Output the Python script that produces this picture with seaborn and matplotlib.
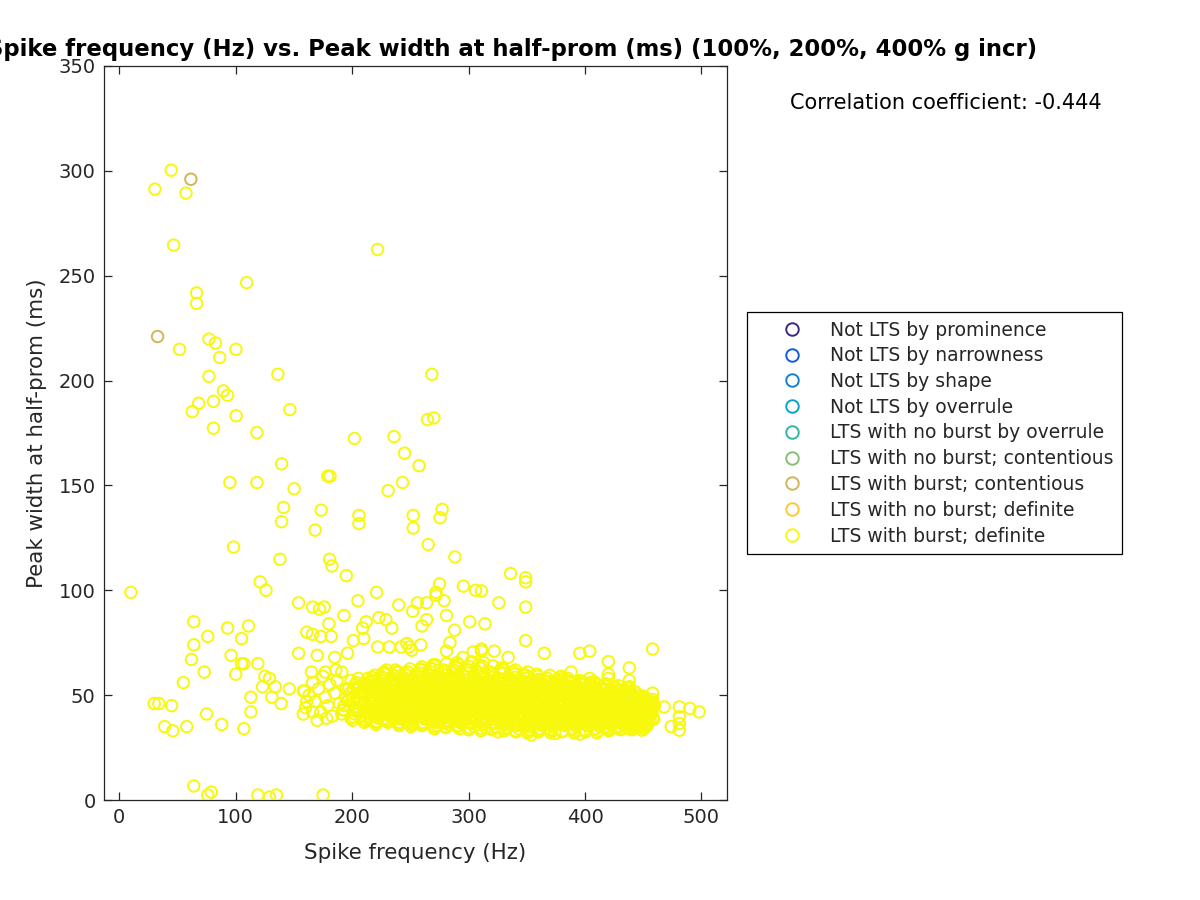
import numpy as np
import matplotlib
matplotlib.use("Agg")
import matplotlib.pyplot as plt
from matplotlib.lines import Line2D
import seaborn as sns

# ---------------- data ----------------
categories = ["Not LTS by prominence", "Not LTS by narrowness", "Not LTS by shape",
              "Not LTS by overrule", "LTS with no burst by overrule",
              "LTS with no burst; contentious", "LTS with burst; contentious",
              "LTS with no burst; definite", "LTS with burst; definite"]
cat_colors = ["#352A87", "#0F5CDD", "#1481D6", "#06A4CA", "#2EB7A4",
              "#87BF77", "#D1B55A", "#FEC832", "#F7F80C"]

# LTS with burst; contentious
freq_contentious = [61.5, 32.9]
width_contentious = [296.0, 221.0]

# LTS with burst; definite -- high-width outliers
freq_high = [30.6, 44.6, 57.3, 46.7, 221.8, 109.4, 66.4, 66.4, 51.8, 77.0, 82.6, 100.2, 86.2,
             136.2, 268.4, 77.0, 89.4, 93.0, 80.9, 68.2, 62.7, 100.4, 146.5, 80.9, 118.2, 264.7,
             270.1, 202.0, 236.0, 245.0, 257.5, 139.4, 179.0, 181.0, 95.0, 118.2, 150.2, 243.3,
             230.9, 141.1, 139.4, 173.4, 168.2, 205.8, 205.8, 252.4, 252.4, 277.3, 275.5, 98.2,
             265.3, 138.0, 180.6, 182.6, 288.2]
width_high = [291.3, 300.3, 289.4, 264.6, 262.5, 246.7, 241.8, 236.8, 214.9, 219.8, 217.9, 214.9,
              211.0, 203.0, 203.0, 202.0, 195.1, 193.0, 190.1, 189.2, 185.2, 183.2, 186.2, 177.3,
              175.2, 181.4, 182.2, 172.4, 173.3, 165.4, 159.4, 160.3, 154.4, 154.4, 151.4, 151.4,
              148.4, 151.4, 147.5, 139.5, 132.7, 138.2, 128.7, 135.7, 131.8, 135.7, 129.7, 138.6,
              134.6, 120.6, 121.8, 114.8, 114.8, 111.6, 115.9]

# LTS with burst; definite -- middle band and scattered points
freq_mid = [10, 64, 64, 62, 76, 73, 55, 93, 111, 105, 96, 105, 100, 119, 121, 126, 154, 166, 172,
            176, 180, 161, 166, 173, 182, 154, 170, 185, 125, 129, 123, 134, 146, 131, 139, 113,
            30, 34, 45, 177, 39, 46, 58, 75, 88, 107, 113, 64, 76, 79, 119, 129, 135, 175,
            158, 166, 159, 161, 107, 195, 205, 221, 240, 256, 264, 252, 281, 301, 314, 288, 193,
            234, 264, 260, 209, 212, 223, 229, 201, 210, 284, 281, 222, 232, 242, 249, 259, 196,
            311, 322, 275, 272, 272, 295.5, 306, 311, 336, 349, 349, 349, 326, 279, 349, 365,
            395.5, 404, 458, 420, 438, 247, 251, 311, 304, 295, 334, 388, 404, 420, 420, 438, 438,
            458, 458, 468, 481, 490, 498, 481, 481, 481, 474, 325.5, 354, 374, 395.5, 449,
            160, 163, 166, 168, 171, 173, 175, 177, 179, 181, 183, 185, 187, 189, 191, 193, 195,
            197, 199, 165, 158, 170, 186, 178]
width_mid = [99, 85, 74, 67, 78, 61, 56, 82, 83, 77, 69, 65, 60, 65, 104, 100, 94, 92, 91,
             92, 84, 80, 79, 78, 78, 70, 69, 68, 59, 58, 54, 54, 53, 49, 46, 49,
             46, 46, 45, 61, 35, 33, 35, 41, 36, 34, 42, 6.7, 2.4, 3.8, 2.4, 1.4, 2.4, 2.4,
             41, 42, 52, 47, 65, 107, 95, 99, 93, 94, 94, 90, 88, 85, 84, 81, 88,
             82, 86, 83, 82, 85, 87, 86, 76, 77, 75, 71, 73, 73, 73, 73, 74, 70,
             71, 71, 103, 99, 97.6, 102, 100, 99.7, 108, 106, 104, 92, 94, 95, 76, 70,
             70, 71, 72, 66, 63, 74.6, 71.4, 72, 70.6, 68, 68, 61, 58, 60, 58, 57, 54,
             51, 48, 44.4, 44.4, 43.7, 42, 39.7, 36.5, 33.3, 35, 32.5, 31, 31.7, 31.4, 33.3,
             44, 50, 56, 47, 53, 42, 59, 49, 45, 55, 40, 51, 57, 46, 61, 43, 53,
             48, 39, 61, 52, 38, 62, 39]

# LTS with burst; definite -- dense core, first layer (one line per 10 Hz band)
freq_core = [
    191, 193, 195, 197, 199, 192, 196, 198,
    200.5, 202.3, 204.1, 206.8, 208.9, 201.2, 203.6, 205.5, 207.7, 209.4, 200.8, 204.7,
    210.5, 212.3, 214.1, 216.8, 218.9, 211.2, 213.6, 215.5, 217.7, 219.4, 210.8, 212.9, 214.7, 216.2, 218.3, 211.7, 213.1, 215.9, 217.2, 219.8,
    220.4, 222.5, 224.2, 226.6, 228.7, 221.3, 223.4, 225.6, 227.9, 229.5, 220.9, 222.8, 224.9, 226.1, 228.2, 221.8, 223.0, 225.2, 227.4, 229.9,
    230.6, 232.1, 234.4, 236.9, 238.5, 231.5, 233.7, 235.3, 237.6, 239.2, 230.2, 232.7, 234.8, 236.3, 238.9, 231.9, 233.2, 235.7, 237.1, 239.7,
    240.3, 242.6, 244.5, 246.2, 248.8, 241.4, 243.1, 245.8, 247.5, 249.6, 240.7, 242.2, 244.0, 246.7, 248.1, 241.9, 243.8, 245.1, 247.9, 249.1,
    250.5, 252.4, 254.3, 256.6, 258.2, 251.1, 253.6, 255.9, 257.3, 259.5, 250.9, 252.8, 254.7, 256.1, 258.8, 251.6, 253.2, 255.4, 257.8, 259.9,
    260.2, 262.7, 264.4, 266.3, 268.6, 261.5, 263.3, 265.8, 267.1, 269.4, 260.8, 262.1, 264.9, 266.8, 268.0, 261.3, 263.9, 265.2, 267.7, 269.8,
    270.6, 272.3, 274.8, 276.1, 278.5, 271.2, 273.7, 275.4, 277.9, 279.3, 270.3, 272.9, 274.2, 276.6, 278.1, 271.8, 273.1, 275.9, 277.3, 279.7,
    280.4, 282.2, 284.7, 286.4, 288.3, 281.6, 283.5, 285.1, 287.8, 289.2, 280.9, 282.8, 284.3, 286.9, 288.7, 281.2, 283.9, 285.6, 287.3, 289.8,
    290.5, 292.6, 294.1, 296.8, 298.4, 291.3, 293.9, 295.2, 297.5, 299.7, 290.1, 292.3, 294.6, 296.2, 298.9, 291.8, 293.4, 295.7, 297.1, 299.2,
    300.2, 302.8, 304.5, 306.3, 308.1, 301.7, 303.2, 305.9, 307.4, 309.6, 300.9, 302.1, 304.8, 306.7, 308.6, 301.4, 303.7, 305.3, 307.9, 309.1,
    310.7, 312.4, 314.2, 316.9, 318.3, 311.1, 313.8, 315.5, 317.2, 319.6, 310.3, 312.9, 314.6, 316.1, 318.8, 311.5, 313.3, 315.8, 317.7, 319.2,
    320.3, 322.6, 324.8, 326.2, 328.5, 321.4, 323.1, 325.7, 327.3, 329.8, 320.8, 322.2, 324.4, 326.9, 328.1, 321.9, 323.6, 325.1, 327.8, 329.4,
    330.5, 332.2, 334.9, 336.4, 338.6, 331.8, 333.3, 335.5, 337.1, 339.7, 330.1, 332.7, 334.3, 336.8, 338.2, 331.2, 333.9, 335.2, 337.6, 339.3,
    340.6, 342.1, 344.7, 346.5, 348.2, 341.3, 343.8, 345.4, 347.9, 349.5, 340.2, 342.9, 344.1, 346.8, 348.7, 341.7, 343.4, 345.9, 347.2, 349.9,
    350.4, 352.8, 354.3, 356.1, 358.7, 351.2, 353.5, 355.8, 357.4, 359.2, 350.9, 352.3, 354.6, 356.7, 358.1, 351.6, 353.1, 355.2, 357.8, 359.6,
    360.1, 362.5, 364.2, 366.8, 368.4, 361.6, 363.9, 365.3, 367.2, 369.7, 360.7, 362.2, 364.8, 366.3, 368.9, 361.3, 363.4, 365.7, 367.6, 369.3,
    370.5, 372.3, 374.6, 376.2, 378.9, 371.4, 373.1, 375.8, 377.3, 379.5, 370.2, 372.8, 374.1, 376.7, 378.3, 371.9, 373.6, 375.2, 377.9, 379.1,
    380.3, 382.7, 384.4, 386.1, 388.6, 381.2, 383.5, 385.9, 387.2, 389.8, 380.8, 382.1, 384.9, 386.5, 388.2, 381.6, 383.2, 385.3, 387.7, 389.4,
    390.6, 392.2, 394.5, 396.8, 398.3, 391.1, 393.7, 395.4, 397.6, 399.2, 390.2, 392.9, 394.1, 396.3, 398.8, 391.7, 393.3, 395.8, 397.1, 399.7,
    400.4, 402.1, 404.7, 406.3, 408.9, 401.8, 403.3, 405.5, 407.6, 409.2, 400.9, 402.6, 404.2, 406.9, 408.4, 401.3, 403.8, 405.1, 407.2, 409.7,
    410.2, 412.6, 414.3, 416.7, 418.1, 411.5, 413.2, 415.8, 417.4, 419.6, 410.8, 412.1, 414.9, 416.2, 418.7, 411.3, 413.7, 415.4, 417.9, 419.2,
    420.5, 422.2, 424.6, 426.1, 428.8, 421.7, 423.4, 425.2, 427.5, 429.3, 420.1, 422.9, 424.3, 426.7, 428.2, 421.2, 423.8, 425.7, 427.1, 429.8,
    430.3, 432.6, 434.2, 436.9, 438.5, 431.4, 433.1, 435.7, 437.2, 439.6, 430.8, 432.2, 434.8, 436.4, 438.1, 431.9, 433.6, 435.3, 437.8, 439.2,
    440.4, 442.5, 444.1, 446.8, 448.3, 441.6, 443.3, 445.7, 447.2, 449.6, 440.9, 443.8, 446.2, 448.9,
    450.6, 452.3, 454.1, 456.4, 458.2, 451.2, 453.5, 455.8, 457.3, 459.1, 450.2, 452.8, 455.1, 458.5,
]
width_core = [
    41, 45, 49, 53, 57, 43, 47, 51,
    38, 41, 44, 47, 50, 53, 56, 58, 40, 45, 49, 54,
    37, 39.5, 42, 44.5, 47, 49.5, 52, 54.5, 57, 59.5, 38.5, 41, 43.5, 46, 48.5, 51, 53.5, 56, 58.5, 45,
    36, 39, 42, 45, 48, 51, 54, 57, 60, 62, 37.5, 40.5, 43.5, 46.5, 49.5, 52.5, 55.5, 58.5, 61, 44,
    37, 40, 43, 46, 49, 52, 55, 58, 61, 36.5, 38.5, 41.5, 44.5, 47.5, 50.5, 53.5, 56.5, 59.5, 62, 48,
    35.5, 38.5, 41.5, 44.5, 47.5, 50.5, 53.5, 56.5, 59.5, 62.5, 37, 40, 43, 46, 49, 52, 55, 58, 61, 45,
    35, 38, 41, 44, 47, 50, 53, 56, 59, 62, 36.5, 39.5, 42.5, 45.5, 48.5, 51.5, 54.5, 57.5, 60.5, 63.5,
    35.5, 38.5, 41.5, 44.5, 47.5, 50.5, 53.5, 56.5, 59.5, 62.5, 37, 40, 43, 46, 49, 52, 55, 58, 61, 64.5,
    34, 37, 40, 43, 46, 49, 52, 55, 58, 61, 64, 35.5, 38.5, 41.5, 44.5, 47.5, 50.5, 53.5, 56.5, 59.5,
    34.5, 37.5, 40.5, 43.5, 46.5, 49.5, 52.5, 55.5, 58.5, 61.5, 65, 36, 39, 42, 45, 48, 51, 54, 57, 63,
    35, 38, 41, 44, 47, 50, 53, 56, 59, 62, 65.5, 34, 36.5, 39.5, 42.5, 45.5, 48.5, 51.5, 54.5, 60.5,
    33.5, 36.5, 39.5, 42.5, 45.5, 48.5, 51.5, 54.5, 57.5, 60.5, 63.5, 66, 35, 38, 41, 44, 47, 50, 53, 56,
    33, 36, 39, 42, 45, 48, 51, 54, 57, 60, 63, 65.5, 34.5, 37.5, 40.5, 43.5, 46.5, 49.5, 52.5, 58.5,
    33.5, 36.5, 39.5, 42.5, 45.5, 48.5, 51.5, 54.5, 57.5, 60.5, 64, 35, 38, 41, 44, 47, 50, 53, 56, 62,
    33, 36, 39, 42, 45, 48, 51, 54, 57, 60, 62.5, 34.5, 37.5, 40.5, 43.5, 46.5, 49.5, 52.5, 55.5, 58.5,
    32.5, 35.5, 38.5, 41.5, 44.5, 47.5, 50.5, 53.5, 56.5, 59.5, 62, 34, 37, 40, 43, 46, 49, 52, 55, 58,
    32, 35, 38, 41, 44, 47, 50, 53, 56, 59, 61, 33.5, 36.5, 39.5, 42.5, 45.5, 48.5, 51.5, 54.5, 57.5,
    32.5, 35.5, 38.5, 41.5, 44.5, 47.5, 50.5, 53.5, 56.5, 59.5, 34, 37, 40, 43, 46, 49, 52, 55, 58, 45,
    32, 35, 38, 41, 44, 47, 50, 53, 56, 59, 33.5, 36.5, 39.5, 42.5, 45.5, 48.5, 51.5, 54.5, 57.5, 40,
    32.5, 35.5, 38.5, 41.5, 44.5, 47.5, 50.5, 53.5, 56.5, 34, 37, 40, 43, 46, 49, 52, 55, 58, 39, 45,
    32, 35, 38, 41, 44, 47, 50, 53, 56, 33.5, 36.5, 39.5, 42.5, 45.5, 48.5, 51.5, 54.5, 57, 41, 47,
    32.5, 35.5, 38.5, 41.5, 44.5, 47.5, 50.5, 53.5, 56.5, 34, 37, 40, 43, 46, 49, 52, 55, 39, 45, 48,
    32, 35, 38, 41, 44, 47, 50, 53, 55.5, 33.5, 36.5, 39.5, 42.5, 45.5, 48.5, 51.5, 54, 40, 46, 37,
    33, 36, 39, 42, 45, 48, 51, 54, 34.5, 37.5, 40.5, 43.5, 46.5, 49.5, 52.5, 38, 44, 41, 47, 35,
    33.5, 36.5, 39.5, 42.5, 45.5, 48.5, 51.5, 53.5, 35, 38, 41, 44, 47, 50, 37, 43, 40, 46, 34, 49,
    33.5, 36.5, 39.5, 42.5, 45.5, 48.5, 51.5, 35, 38, 41, 44, 47, 50, 40,
    34, 37, 40, 43, 46, 49, 35.5, 38.5, 41.5, 44.5, 47.5, 36, 42, 39,
]

# LTS with burst; definite -- dense core, second layer
freq_core2 = [
    201.5, 203.0, 205.0, 207.2, 208.0, 202.6, 206.1, 209.0,
    211.0, 212.7, 214.5, 216.0, 217.4, 219.1, 210.3, 213.3, 215.1, 218.6, 211.5, 214.0, 216.5, 218.0, 219.7,
    220.6, 222.2, 223.9, 225.6, 227.9, 229.4, 221.3, 222.9, 224.8, 226.7, 228.3, 220.1, 223.6, 225.3, 227.1,
    231.0, 232.7, 234.5, 236.0, 237.4, 239.1, 230.3, 233.3, 235.1, 238.6, 231.5, 234.0, 236.5, 238.0, 239.7,
    240.6, 242.2, 243.9, 245.6, 247.9, 249.4, 241.3, 242.9, 244.8, 246.7, 248.3, 240.1, 243.6, 245.3, 247.1,
    251.0, 252.7, 254.5, 256.0, 257.4, 259.1, 250.3, 253.3, 255.1, 258.6, 251.5, 254.0, 256.5, 258.0, 259.7,
    260.6, 262.2, 263.9, 265.6, 267.9, 269.4, 261.3, 262.9, 264.8, 266.7, 268.3, 260.1, 263.6, 265.3, 267.1,
    271.0, 272.7, 274.5, 276.0, 277.4, 279.1, 270.3, 273.3, 275.1, 278.6, 271.5, 274.0, 276.5, 278.0, 279.7,
    280.6, 282.2, 283.9, 285.6, 287.9, 289.4, 281.3, 282.9, 284.8, 286.7, 288.3, 280.1, 283.6, 285.3, 287.1,
    291.0, 292.7, 294.5, 296.0, 297.4, 299.1, 290.3, 293.3, 295.1, 298.6, 291.5, 294.0, 296.5, 298.0, 299.7,
    300.6, 302.2, 303.9, 305.6, 307.9, 309.4, 301.3, 302.9, 304.8, 306.7, 308.3, 300.1, 303.6, 305.3, 307.1,
    311.0, 312.7, 314.5, 316.0, 317.4, 319.1, 310.3, 313.3, 315.1, 318.6, 311.5, 314.0, 316.5, 318.0, 319.7,
    320.6, 322.2, 323.9, 325.6, 327.9, 329.4, 321.3, 322.9, 324.8, 326.7, 328.3, 320.1, 323.6, 325.3, 327.1,
    331.0, 332.7, 334.5, 336.0, 337.4, 339.1, 330.3, 333.3, 335.1, 338.6, 331.5, 334.0, 336.5, 338.0, 339.7,
    340.6, 342.2, 343.9, 345.6, 347.9, 349.4, 341.3, 342.9, 344.8, 346.7, 348.3, 340.1, 343.6, 345.3, 347.1,
    351.0, 352.7, 354.5, 356.0, 357.4, 359.1, 350.3, 353.3, 355.1, 358.6, 351.5, 354.0, 356.5, 358.0, 359.7,
    360.6, 362.2, 363.9, 365.6, 367.9, 369.4, 361.3, 362.9, 364.8, 366.7, 368.3, 360.1, 363.6, 365.3, 367.1,
    371.0, 372.7, 374.5, 376.0, 377.4, 379.1, 370.3, 373.3, 375.1, 378.6, 371.5, 374.0, 376.5, 378.0, 379.7,
    380.6, 382.2, 383.9, 385.6, 387.9, 389.4, 381.3, 382.9, 384.8, 386.7, 388.3, 380.1, 383.6, 385.3, 387.1,
    391.0, 392.7, 394.5, 396.0, 397.4, 399.1, 390.3, 393.3, 395.1, 398.6, 391.5, 394.0, 396.5, 398.0, 399.7,
    400.6, 402.2, 403.9, 405.6, 407.9, 409.4, 401.3, 402.9, 404.8, 406.7, 408.3, 400.1, 403.6, 405.3, 407.1,
    411.0, 412.7, 414.5, 416.0, 417.4, 419.1, 410.3, 413.3, 415.1, 418.6, 411.5, 414.0, 416.5, 418.0, 419.7,
    420.6, 422.2, 423.9, 425.6, 427.9, 429.4, 421.3, 422.9, 424.8, 426.7, 428.3, 420.1, 423.6, 425.3, 427.1,
    431.0, 432.7, 434.5, 436.0, 437.4, 439.1, 430.3, 433.3, 435.1, 438.6, 431.5, 434.0, 436.5, 438.0, 439.7,
    440.6, 442.2, 443.9, 445.6, 447.9, 449.4, 441.3, 442.9, 444.8, 446.7, 448.3, 440.1, 443.6, 445.3, 447.1,
    451.0, 452.7, 454.5, 456.0, 457.4, 450.3, 453.3, 455.1,
]
width_core2 = [
    39.5, 42.5, 46, 48.5, 51.5, 55, 43, 52,
    38, 41.5, 44, 47.5, 50, 52.5, 55.5, 58, 39.5, 43, 46, 49, 51.5, 54, 57,
    37, 40, 43.5, 46, 48, 51, 53.5, 56, 59, 38.5, 41.5, 45, 50, 55, 60.5,
    37.5, 40.5, 42.5, 45.5, 48.5, 51, 53, 56, 59.5, 39, 44, 47, 50, 54.5, 61,
    36.5, 39.5, 42, 45, 48, 51, 54.5, 57.5, 60.5, 38, 43.5, 46.5, 49.5, 52.5, 56,
    36, 39, 42, 45, 48, 51, 54, 57, 60, 62.5, 40.5, 43.5, 46.5, 52.5, 55.5,
    36, 39, 42, 45, 48, 51, 54, 57, 60, 63, 37.5, 43.5, 46.5, 49.5, 55.5,
    35, 38, 41, 44, 47, 50, 53, 56, 59, 62, 64.5, 39.5, 45.5, 51.5, 57.5,
    35, 38, 41, 44, 47, 50, 53, 56, 59, 62, 64, 39.5, 45.5, 51.5, 57.5,
    35.5, 38.5, 41.5, 44.5, 47.5, 50.5, 53.5, 56.5, 59.5, 62.5, 64.5, 37, 43, 49, 55,
    34.5, 37.5, 40.5, 43.5, 46.5, 49.5, 52.5, 55.5, 58.5, 61.5, 64.5, 39, 45, 51, 57,
    34, 37, 40, 43, 46, 49, 52, 55, 58, 61, 64, 38.5, 44.5, 50.5, 56.5,
    34, 37, 40, 43, 46, 49, 52, 55, 58, 61, 63, 38.5, 44.5, 50.5, 56.5,
    34, 37, 40, 43, 46, 49, 52, 55, 58, 61, 38.5, 44.5, 50.5, 56.5, 35.5,
    33, 36, 39, 42, 45, 48, 51, 54, 57, 60, 37.5, 43.5, 49.5, 55.5, 41,
    33, 36, 39, 42, 45, 48, 51, 54, 57, 60, 37.5, 43.5, 49.5, 55.5, 47,
    33, 36, 39, 42, 45, 48, 51, 54, 57, 37.5, 43.5, 49.5, 55.5, 40.5, 46.5,
    33, 36, 39, 42, 45, 48, 51, 54, 57, 58.5, 37.5, 43.5, 49.5, 55.5, 46.5,
    33, 36, 39, 42, 45, 48, 51, 54, 57, 37.5, 43.5, 49.5, 40.5, 46.5, 52.5,
    33, 36, 39, 42, 45, 48, 51, 54, 56, 37.5, 43.5, 49.5, 40.5, 46.5, 52.5,
    33, 36, 39, 42, 45, 48, 51, 54, 56, 37.5, 43.5, 49.5, 40.5, 46.5, 52.5,
    33, 36, 39, 42, 45, 48, 51, 54, 37.5, 43.5, 49.5, 40.5, 46.5, 52.5, 35,
    34, 37, 40, 43, 46, 49, 52, 35.5, 38.5, 41.5, 44.5, 47.5, 50.5, 53.5, 42,
    34, 37, 40, 43, 46, 49, 52, 35.5, 38.5, 41.5, 44.5, 47.5, 50.5, 45, 39,
    34.5, 37.5, 40.5, 43.5, 46.5, 49.5, 36, 39, 42, 45, 48, 51, 41, 44, 38,
    35, 38, 41, 44, 47, 36.5, 39.5, 42.5,
]

# LTS with burst; definite -- dense core, third layer (230-460 Hz)
freq_core3 = [
    230.9, 233.0, 235.2, 237.5, 239.6, 232.0, 234.2, 236.4, 238.7, 231.1, 235.8, 239.0,
    240.9, 243.0, 245.2, 247.5, 249.6, 242.0, 244.2, 246.4, 248.7, 241.1, 245.8, 249.0,
    250.9, 253.0, 255.2, 257.5, 259.6, 252.0, 254.2, 256.4, 258.7, 251.1, 255.8, 259.0,
    260.9, 263.0, 265.2, 267.5, 269.6, 262.0, 264.2, 266.4, 268.7, 261.1, 265.8, 269.0,
    270.9, 273.0, 275.2, 277.5, 279.6, 272.0, 274.2, 276.4, 278.7, 271.1, 275.8, 279.0,
    280.9, 283.0, 285.2, 287.5, 289.6, 282.0, 284.2, 286.4, 288.7, 281.1, 285.8, 289.0,
    290.9, 293.0, 295.2, 297.5, 299.6, 292.0, 294.2, 296.4, 298.7, 291.1, 295.8, 299.0,
    300.9, 303.0, 305.2, 307.5, 309.6, 302.0, 304.2, 306.4, 308.7, 301.1, 305.8, 309.0,
    310.9, 313.0, 315.2, 317.5, 319.6, 312.0, 314.2, 316.4, 318.7, 311.1, 315.8, 319.0,
    320.9, 323.0, 325.2, 327.5, 329.6, 322.0, 324.2, 326.4, 328.7, 321.1, 325.8, 329.0,
    330.9, 333.0, 335.2, 337.5, 339.6, 332.0, 334.2, 336.4, 338.7, 331.1, 335.8, 339.0,
    340.9, 343.0, 345.2, 347.5, 349.6, 342.0, 344.2, 346.4, 348.7, 341.1, 345.8, 349.0,
    350.9, 353.0, 355.2, 357.5, 359.6, 352.0, 354.2, 356.4, 358.7, 351.1, 355.8, 359.0,
    360.9, 363.0, 365.2, 367.5, 369.6, 362.0, 364.2, 366.4, 368.7, 361.1, 365.8, 369.0,
    370.9, 373.0, 375.2, 377.5, 379.6, 372.0, 374.2, 376.4, 378.7, 371.1, 375.8, 379.0,
    380.9, 383.0, 385.2, 387.5, 389.6, 382.0, 384.2, 386.4, 388.7, 381.1, 385.8, 389.0,
    390.9, 393.0, 395.2, 397.5, 399.6, 392.0, 394.2, 396.4, 398.7, 391.1, 395.8, 399.0,
    400.9, 403.0, 405.2, 407.5, 409.6, 402.0, 404.2, 406.4, 408.7, 401.1, 405.8, 409.0,
    410.9, 413.0, 415.2, 417.5, 419.6, 412.0, 414.2, 416.4, 418.7, 411.1, 415.8, 419.0,
    420.9, 423.0, 425.2, 427.5, 429.6, 422.0, 424.2, 426.4, 428.7, 421.1, 425.8, 429.0,
    430.9, 433.0, 435.2, 437.5, 439.6, 432.0, 434.2, 436.4, 438.7, 431.1, 435.8, 439.0,
    440.9, 443.0, 445.2, 447.5, 449.6, 442.0, 444.2, 446.4, 448.7, 441.1, 445.8, 449.0,
    450.9, 453.0, 455.2, 457.5, 459.6, 452.0, 454.2, 456.4, 458.7, 451.1, 455.8, 459.0,
]
width_core3 = [
    37.5, 40, 42.5, 45, 47.5, 50, 52.5, 55, 57, 41, 46, 51,
    36.8, 39.2, 41.8, 44.2, 46.8, 49.2, 51.8, 54.2, 56.5, 43, 48, 53,
    37.5, 40, 42.5, 45, 47.5, 50, 52.5, 55, 57, 41, 46, 51,
    36.8, 39.2, 41.8, 44.2, 46.8, 49.2, 51.8, 54.2, 56.5, 43, 48, 53,
    37.5, 40, 42.5, 45, 47.5, 50, 52.5, 55, 57, 41, 46, 51,
    36.8, 39.2, 41.8, 44.2, 46.8, 49.2, 51.8, 54.2, 56.5, 43, 48, 53,
    37.5, 40, 42.5, 45, 47.5, 50, 52.5, 55, 57, 41, 46, 51,
    36.8, 39.2, 41.8, 44.2, 46.8, 49.2, 51.8, 54.2, 56.5, 43, 48, 53,
    37.5, 40, 42.5, 45, 47.5, 50, 52.5, 55, 57, 41, 46, 51,
    36.8, 39.2, 41.8, 44.2, 46.8, 49.2, 51.8, 54.2, 56.5, 43, 48, 53,
    37.5, 40, 42.5, 45, 47.5, 50, 52.5, 55, 57, 41, 46, 51,
    36.8, 39.2, 41.8, 44.2, 46.8, 49.2, 51.8, 54.2, 56.5, 43, 48, 53,
    37.5, 40, 42.5, 45, 47.5, 50, 52.5, 55, 57, 41, 46, 51,
    36.8, 39.2, 41.8, 44.2, 46.8, 49.2, 51.8, 54.2, 56.5, 43, 48, 53,
    37.5, 40, 42.5, 45, 47.5, 50, 52.5, 55, 57, 41, 46, 51,
    36.8, 39.2, 41.8, 44.2, 46.8, 49.2, 51.8, 54.2, 56.5, 43, 48, 53,
    37.5, 40, 42.5, 45, 47.5, 50, 52.5, 55, 56, 41, 46, 51,
    36.8, 39.2, 41.8, 44.2, 46.8, 49.2, 51.8, 54.2, 55.5, 43, 48, 53,
    37.5, 40, 42.5, 45, 47.5, 50, 52.5, 54.5, 55, 41, 46, 51,
    36.8, 39.2, 41.8, 44.2, 46.8, 49.2, 51.8, 53.5, 54.5, 43, 48, 38,
    37.5, 40, 42.5, 45, 47.5, 50, 52.5, 53.5, 35.5, 41, 46, 51,
    35.8, 38.2, 40.8, 43.2, 45.8, 48.2, 37, 42, 47, 39.5, 44.5, 49,
    35.2, 37.8, 40.2, 42.8, 45.2, 47.5, 36.5, 41.5, 44, 39, 46, 38.5,
]

x_ticks = [0, 100, 200, 300, 400, 500]
y_ticks = [0, 50, 100, 150, 200, 250, 300, 350]
corr_text = "Correlation coefficient: -0.444"
title_text = "Spike frequency (Hz) vs. Peak width at half-prom (ms) (100%, 200%, 400% g incr)"

assert len(freq_core) == len(width_core)
assert len(freq_core2) == len(width_core2)
assert len(freq_core3) == len(width_core3)
assert len(freq_mid) == len(width_mid)
assert len(freq_high) == len(width_high)

# ---------------- plot ----------------
sns.set_theme(style="white")
plt.rcParams["font.family"] = ["DejaVu Sans"]

fig = plt.figure(figsize=(12, 9), dpi=100)
ax = fig.add_axes([104 / 1200, 100 / 900, 623 / 1200, 734 / 900])

def_x = np.array(freq_high + freq_mid + freq_core + freq_core2 + freq_core3, dtype=float)
def_y = np.array(width_high + width_mid + width_core + width_core2 + width_core3, dtype=float)

ms = 68
lw = 1.4
sns.scatterplot(x=def_x, y=def_y, ax=ax, marker="o", s=ms, color=cat_colors[8],
                facecolors="none", edgecolor=cat_colors[8], linewidth=lw, legend=False, zorder=3)
sns.scatterplot(x=np.array(freq_contentious), y=np.array(width_contentious), ax=ax, marker="o",
                s=ms, color=cat_colors[6], facecolors="none", edgecolor=cat_colors[6],
                linewidth=lw, legend=False, zorder=4)

ax.set_xlim(-13.1, 521.9)
ax.set_ylim(0, 350)
ax.set_xticks(x_ticks)
ax.set_yticks(y_ticks)
ax.tick_params(direction="in", length=6, width=0.9, top=True, right=True,
               bottom=True, left=True, labelsize=14, colors="#262626", pad=6)
for sp in ax.spines.values():
    sp.set_visible(True)
    sp.set_color("#262626")
    sp.set_linewidth(0.9)

ax.set_xlabel("Spike frequency (Hz)", fontsize=15.4, color="#262626", labelpad=11)
ax.set_ylabel("Peak width at half-prom (ms)", fontsize=15.4, color="#262626", labelpad=8)
ax.set_title(title_text, fontsize=16.4, fontweight="bold", color="black", pad=7,
             x=(512 - 104) / 623)

fig.text(790 / 1200, 1 - 103 / 900, corr_text, fontsize=15, va="center", ha="left",
         color="black")

handles = [Line2D([], [], linestyle="none", marker="o", markersize=9,
                  markerfacecolor="none", markeredgecolor=c, markeredgewidth=1.4)
           for c in cat_colors]
leg = fig.legend(handles, categories, loc="center left",
                 bbox_to_anchor=(747 / 1200, 1 - 433 / 900), fontsize=13.5,
                 frameon=True, fancybox=False, edgecolor="black", framealpha=1,
                 borderpad=0.45, handlelength=3.9, handletextpad=0.1, labelspacing=0.36,
                 borderaxespad=0)
leg.get_frame().set_linewidth(0.9)

fig.savefig("out.png", dpi=100)
